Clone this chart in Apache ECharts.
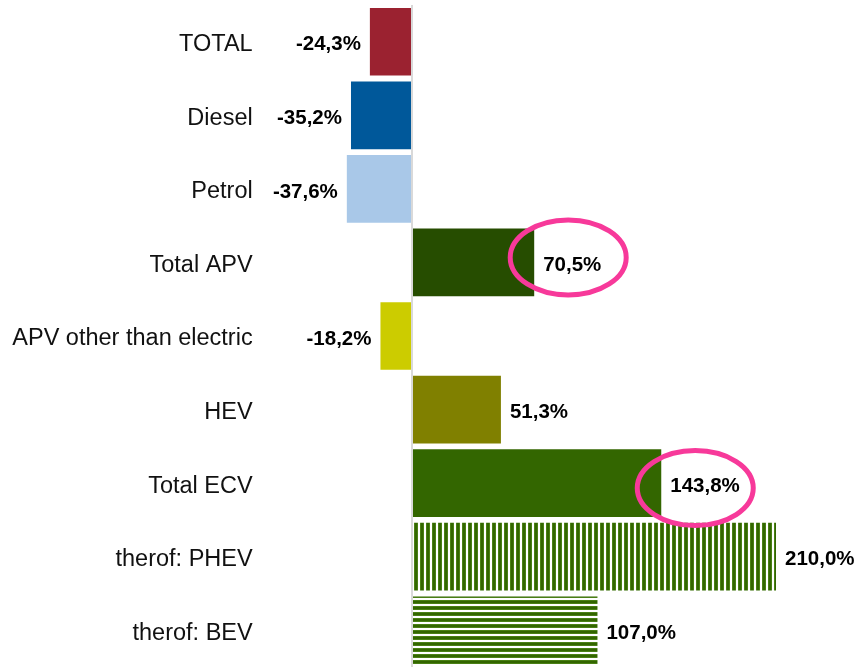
<!DOCTYPE html>
<html>
<head>
<meta charset="utf-8">
<script src="https://cdn.jsdelivr.net/npm/echarts@6/dist/echarts.min.js"></script>
<style>
  html, body { margin: 0; padding: 0; background: #fff; }
  #main { width: 859px; height: 667px; }
</style>
</head>
<body>
<div id="main"></div>
<script>
var categories = ['TOTAL', 'Diesel', 'Petrol', 'Total APV', 'APV other than electric', 'HEV', 'Total ECV', 'therof: PHEV', 'therof: BEV']
var values = [-24.3, -35.2, -37.6, 70.5, -18.2, 51.3, 143.8, 210.0, 107.0]
var barColors = ['#9B2230', '#00589A', '#A9C8E8', '#264D00', '#CCCC00', '#808000', '#336600', 'vstripe', 'hstripe']
var circled = ['Total APV', 'Total ECV']
var circleShiftY = [-5, 5]

// stripe patterns for the PHEV / BEV bars
function stripe(vertical) {
	var c = document.createElement('canvas')
	c.width = 6
	c.height = 6
	var ctx = c.getContext('2d')
	ctx.fillStyle = '#ffffff'
	ctx.fillRect(0, 0, 6, 6)
	ctx.fillStyle = '#4a8015'
	if (vertical) {
		ctx.fillRect(0, 0, 4, 6)
		ctx.fillStyle = '#336600'
		ctx.fillRect(1, 0, 2, 6)
	} else {
		ctx.fillRect(0, 0, 6, 4)
		ctx.fillStyle = '#336600'
		ctx.fillRect(0, 1, 6, 2)
	}
	return { image: c, repeat: 'repeat' }
}

var chart = echarts.init(document.getElementById('main'), null, { renderer: 'canvas' })

var data = values.map(function(v, i) {
	var col = barColors[i]
	if (col == 'vstripe') col = stripe(true)
	else if (col == 'hstripe') col = stripe(false)
	return {
		value: v,
		itemStyle: { color: col },
		label: { position: v < 0 ? 'left' : 'right' }
	}
})

var option = {
	animation: false,
	grid: {
		left: 342.67,
		right: 13.67,
		top: 5,
		height: 668
	},
	xAxis: {
		type: 'value',
		min: -40,
		max: 250,
		show: false
	},
	yAxis: {
		type: 'category',
		inverse: true,
		data: categories,
		axisLine: { show: false },
		axisTick: { show: false },
		axisLabel: {
			margin: 90,
			formatter: function(v) { return '{c|' + v + '}' },
			rich: {
				c: {
					padding: [6, 0, 0, 0],
					color: '#111',
					fontFamily: 'Liberation Sans, Arial, sans-serif',
					fontSize: 23.5
				}
			}
		}
	},
	series: [{
		type: 'bar',
		barCategoryGap: '8%',
		data: data,
		label: {
			show: true,
			distance: 9,
			offset: [0, 3],
			color: '#000',
			fontWeight: 'bold',
			fontFamily: 'Liberation Sans, Arial, sans-serif',
			fontSize: 20.5,
			formatter: function(p) {
				return p.value.toFixed(1).replace('.', ',') + '%'
			}
		},
		markLine: {
			silent: true,
			symbol: 'none',
			label: { show: false },
			lineStyle: { color: '#d9d9d9', width: 2, type: 'solid' },
			data: [{ xAxis: 0 }]
		}
	}]
}
chart.setOption(option)

// pink ellipses around the highlighted labels (drawn over the bars)
var rings = circled.map(function(name, i) {
	var v = values[categories.indexOf(name)]
	var pt = chart.convertToPixel({ seriesIndex: 0 }, [v, name])
	return {
		type: 'ellipse',
		z: 100,
		shape: { cx: pt[0] + 34, cy: pt[1] + circleShiftY[i], rx: 58, ry: 37.5 },
		style: { fill: null, stroke: '#F7399A', lineWidth: 5 },
		silent: true
	}
})
chart.setOption({ graphic: rings })
</script>
</body>
</html>
